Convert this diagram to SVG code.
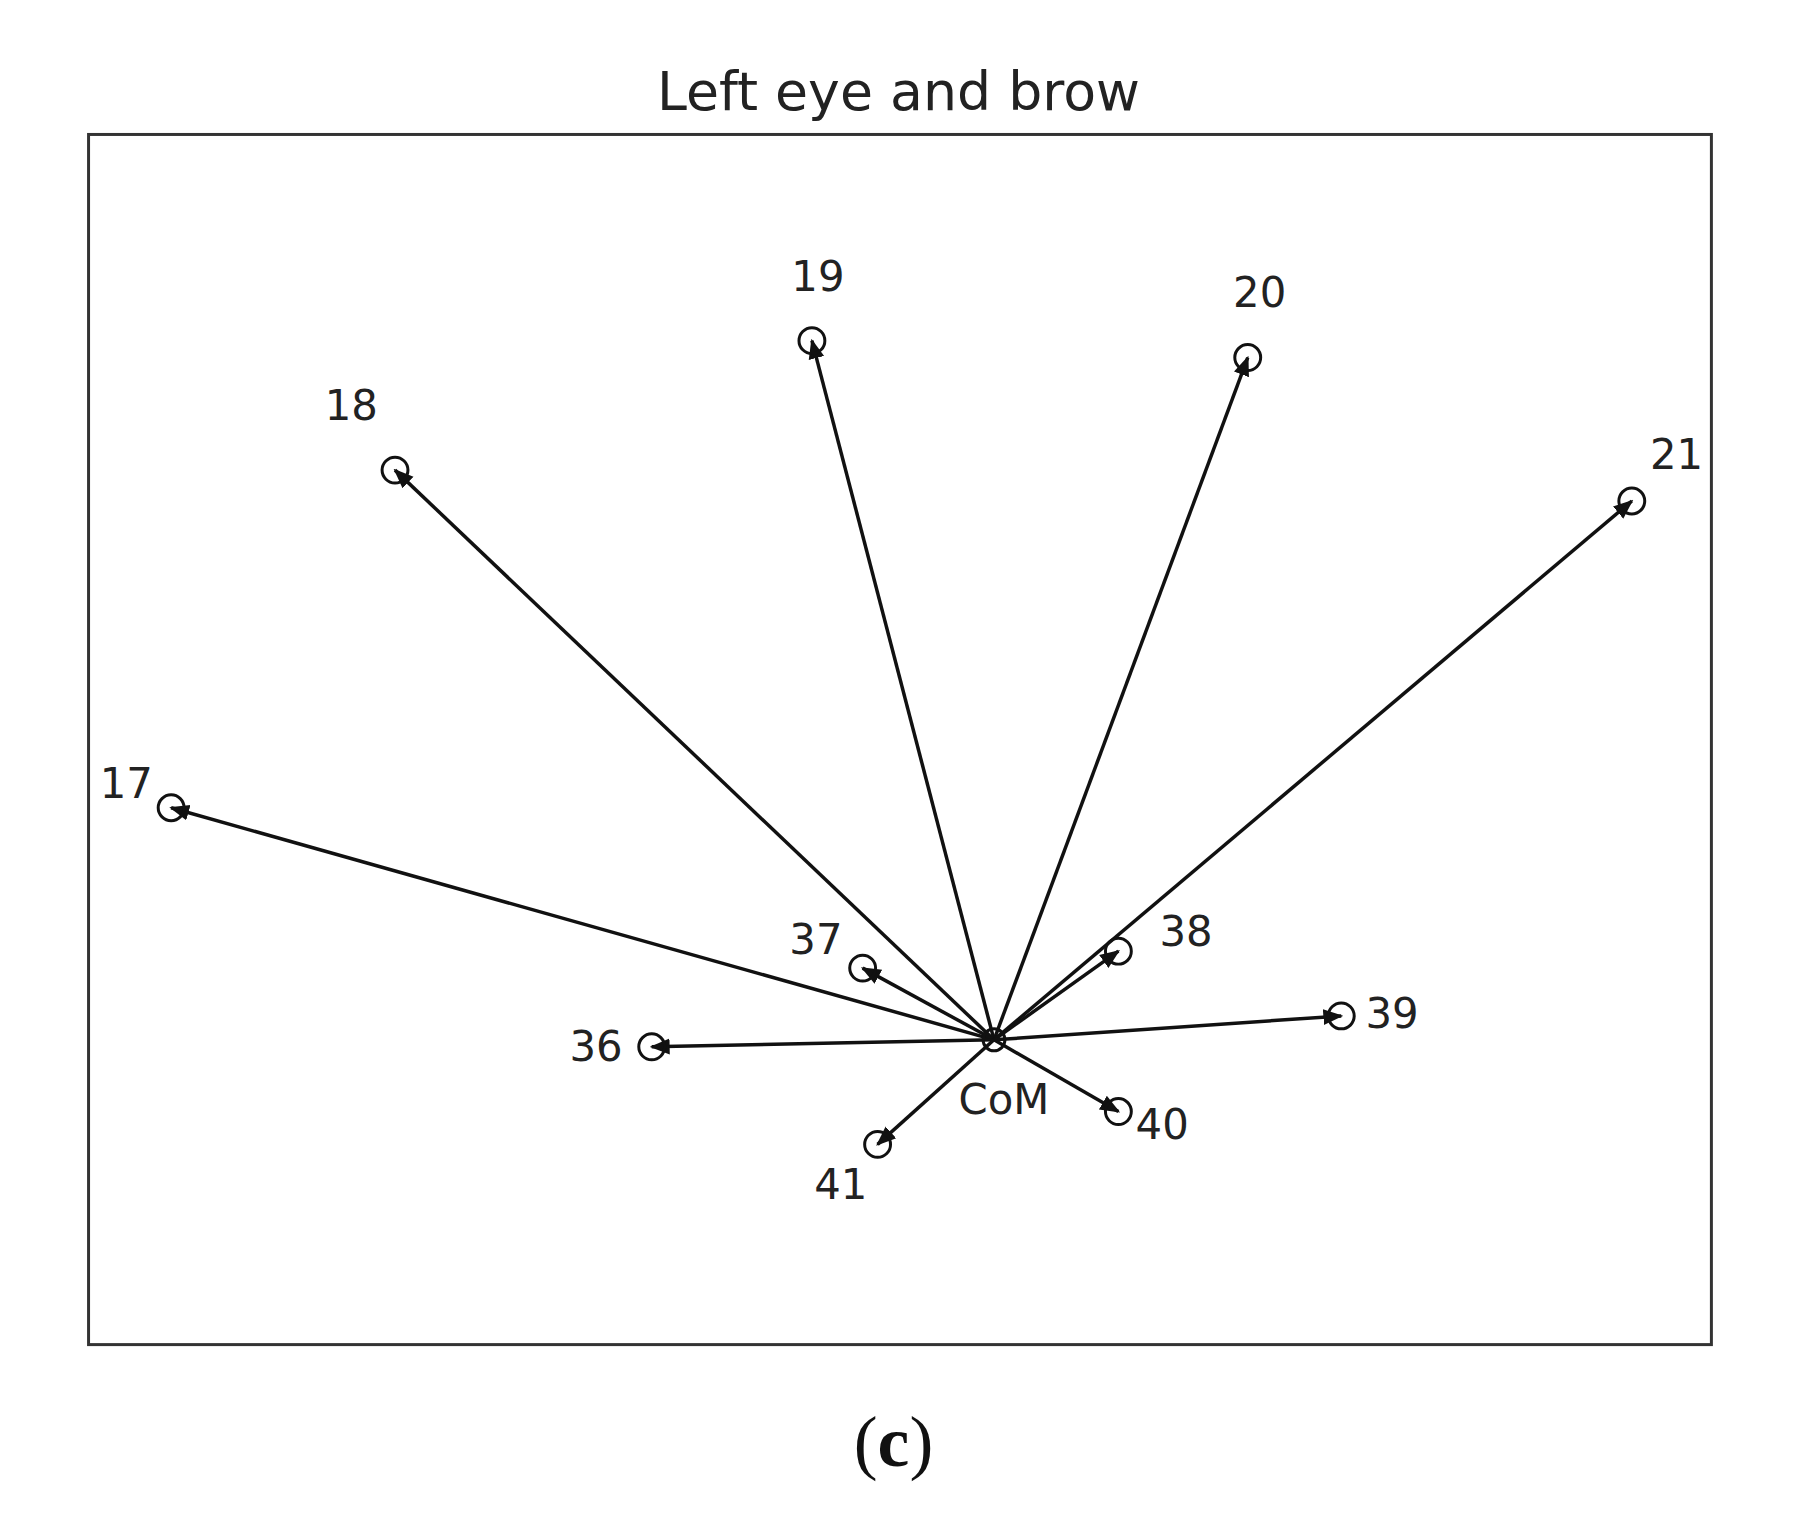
<svg xmlns="http://www.w3.org/2000/svg" width="1800" height="1520" viewBox="0 0 1800 1520">
<style>
.t{font-family:"DejaVu Sans","Liberation Sans",sans-serif;font-size:42px;fill:#222;text-anchor:middle;dominant-baseline:central}
.c{fill:none;stroke:#111;stroke-width:3}
.l{stroke:#111;stroke-width:3.5;marker-end:url(#a)}
</style>
<defs><marker id="a" viewBox="0 0 20 20" refX="18" refY="10" markerWidth="20" markerHeight="20" markerUnits="userSpaceOnUse" orient="auto"><path d="M0,2 L20,10 L0,18 z" fill="#111"/></marker></defs>
<rect width="1800" height="1520" fill="#fff"/>
<g transform="scale(0.995,0.996)">
<text class="t" x="903" y="92" style="font-size:54px">Left eye and brow</text>
<rect x="89" y="135" width="1631" height="1215" fill="none" stroke="#333" stroke-width="3"/>
<g id="connectors">
<line class="l" x1="999" y1="1044" x2="172" y2="811"/>
<line class="l" x1="999" y1="1044" x2="397" y2="472"/>
<line class="l" x1="999" y1="1044" x2="816" y2="342"/>
<line class="l" x1="999" y1="1044" x2="1254" y2="359"/>
<line class="l" x1="999" y1="1044" x2="1640" y2="503"/>
<line class="l" x1="999" y1="1044" x2="867" y2="972"/>
<line class="l" x1="999" y1="1044" x2="1124" y2="955"/>
<line class="l" x1="999" y1="1044" x2="1348" y2="1020"/>
<line class="l" x1="999" y1="1044" x2="655" y2="1051"/>
<line class="l" x1="999" y1="1044" x2="1124" y2="1116"/>
<line class="l" x1="999" y1="1044" x2="882" y2="1149"/>
</g>
<g id="CoM"><circle class="c" cx="999" cy="1044" r="11"/><text class="t" x="1009" y="1104">CoM</text></g>
<g id="n17"><circle class="c" cx="172" cy="811" r="13"/><text class="t" x="127" y="787">17</text></g>
<g id="n18"><circle class="c" cx="397" cy="472" r="13"/><text class="t" x="353" y="407">18</text></g>
<g id="n19"><circle class="c" cx="816" cy="342" r="13"/><text class="t" x="822" y="278">19</text></g>
<g id="n20"><circle class="c" cx="1254" cy="359" r="13"/><text class="t" x="1266" y="294">20</text></g>
<g id="n21"><circle class="c" cx="1640" cy="503" r="13"/><text class="t" x="1685" y="456">21</text></g>
<g id="n37"><circle class="c" cx="867" cy="972" r="13"/><text class="t" x="820" y="943">37</text></g>
<g id="n38"><circle class="c" cx="1124" cy="955" r="13"/><text class="t" x="1192" y="935">38</text></g>
<g id="n39"><circle class="c" cx="1348" cy="1020" r="13"/><text class="t" x="1399" y="1018">39</text></g>
<g id="n36"><circle class="c" cx="655" cy="1051" r="13"/><text class="t" x="599" y="1051">36</text></g>
<g id="n40"><circle class="c" cx="1124" cy="1116" r="13"/><text class="t" x="1168" y="1129">40</text></g>
<g id="n41"><circle class="c" cx="882" cy="1149" r="13"/><text class="t" x="845" y="1189">41</text></g>
<text x="898" y="1448" style="font-family:'Liberation Serif',serif;font-size:72px;text-anchor:middle;dominant-baseline:central;fill:#111">(<tspan font-weight="bold">c</tspan>)</text>
</g>
</svg>
